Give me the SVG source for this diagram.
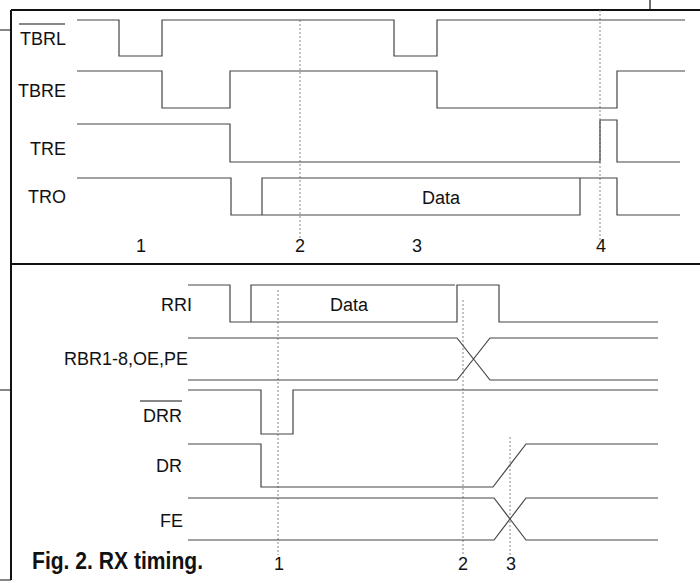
<svg xmlns="http://www.w3.org/2000/svg" width="700" height="583" viewBox="0 0 700 583">
<style>
.frame{stroke:#111;stroke-width:2;fill:none}
.thin{stroke:#111;stroke-width:1.2;fill:none}
.sig{stroke:#444;stroke-width:1.2;fill:none}
.mark{stroke:#888;stroke-width:1;stroke-dasharray:2 2;fill:none}
.lbl{font-family:"Liberation Sans",Arial,sans-serif;font-size:18px;fill:#111}
.cap{font-family:"Liberation Sans",Arial,sans-serif;font-size:24px;font-weight:bold;fill:#111}
</style>
<rect width="700" height="583" fill="#fff"/>
<g id="frame">
<path class="frame" d="M11,10 H700 M11,10 V580 M11,264 H700"/>
<path class="thin" d="M650,0 V10 M0,30 H11 M0,390 H11 M0,580 H11"/>
</g>
<g id="markers">
<path class="mark" d="M300,20 V240 M600,10 V240 M278,290 V555 M463,300 V555 M510,437 V555"/>
</g>
<g id="TBRL">
<text class="lbl" x="20" y="45">TBRL</text>
<path class="thin" d="M19,24 H65"/>
<path class="sig" d="M77,20 H119 V56 H162 V20 H394 V56 H437 V20 H685"/>
</g>
<g id="TBRE">
<text class="lbl" x="18" y="97">TBRE</text>
<path class="sig" d="M77,71 H162 V108 H230 V71 H437 V108 H617 V71 H685"/>
</g>
<g id="TRE">
<text class="lbl" x="30" y="155">TRE</text>
<path class="sig" d="M77,124 H230 V162 H600 V120 H617 V162 H680"/>
</g>
<g id="TRO">
<text class="lbl" x="28" y="203">TRO</text>
<path class="sig" d="M77,178 H231 V215 H580 V178 H617 V215 H680 M262,215 V178 H580"/>
<text class="lbl" x="441" y="204" text-anchor="middle">Data</text>
</g>
<g id="top-labels">
<text class="lbl" x="141" y="252" text-anchor="middle">1</text>
<text class="lbl" x="300" y="252" text-anchor="middle">2</text>
<text class="lbl" x="417" y="252" text-anchor="middle">3</text>
<text class="lbl" x="601" y="252" text-anchor="middle">4</text>
</g>
<g id="RRI">
<text class="lbl" x="192" y="311" text-anchor="end">RRI</text>
<path class="sig" d="M188,285 H230 V322 H457 V285 H499 V322 H658 M251,322 V285 H455"/>
<text class="lbl" x="349" y="311" text-anchor="middle">Data</text>
</g>
<g id="RBR">
<text class="lbl" x="188" y="365" text-anchor="end">RBR1-8,OE,PE</text>
<path class="sig" d="M188,338 H457 L490,380 H658 M188,380 H457 L490,338 H658"/>
</g>
<g id="DRR">
<text class="lbl" x="182" y="422" text-anchor="end">DRR</text>
<path class="thin" d="M140,401 H182"/>
<path class="sig" d="M188,390 H261 V434 H293 V390 H658"/>
</g>
<g id="DR">
<text class="lbl" x="182" y="472" text-anchor="end">DR</text>
<path class="sig" d="M188,444 H261 V487 H493 L526,444 H658"/>
</g>
<g id="FE">
<text class="lbl" x="183" y="527" text-anchor="end">FE</text>
<path class="sig" d="M188,498 H494 L526,540 H658 M188,540 H494 L526,498 H658"/>
</g>
<g id="bottom-labels">
<text class="lbl" x="279" y="570" text-anchor="middle">1</text>
<text class="lbl" x="463" y="570" text-anchor="middle">2</text>
<text class="lbl" x="511" y="570" text-anchor="middle">3</text>
</g>
<text class="cap" x="32" y="569" textLength="171" lengthAdjust="spacingAndGlyphs">Fig. 2. RX timing.</text>
</svg>
